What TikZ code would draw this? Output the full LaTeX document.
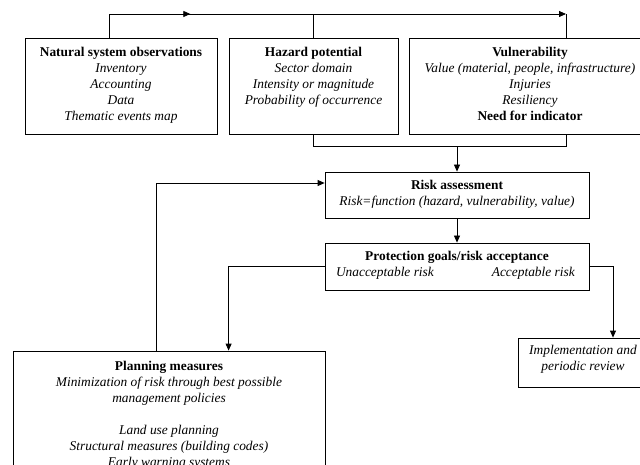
\documentclass[tikz,border=0pt]{standalone}
\usepackage{fontspec}
\setmainfont{Liberation Serif}
\usetikzlibrary{arrows.meta,calc,decorations.markings}
\newcommand\bxt[4]{\parbox[c][#2][t]{#1}{\centering\rule{0pt}{#3}#4\par}}
\tikzset{
  blk/.style={draw, line width=0.8pt, inner sep=0pt, font=\fontsize{13.4}{16}\selectfont},
  conn/.style={line width=0.8pt},
  arr/.style={conn, -{Triangle[length=7pt,width=6pt]}}
}
\begin{document}
\begin{tikzpicture}[x=1pt,y=-1pt]
\useasboundingbox (0,0) rectangle (640,465);
\clip (0,0) rectangle (640,465);
\node[blk] (nat) at (121,86) {\bxt{192pt}{96pt}{19pt}{\textbf{Natural system observations}\\\textit{Inventory}\\\textit{Accounting}\\\textit{Data}\\\textit{Thematic events map}}};
\node[blk] (haz) at (313.5,86) {\bxt{169pt}{96pt}{19pt}{\textbf{Hazard potential}\\\textit{Sector domain}\\\textit{Intensity or magnitude}\\\textit{Probability of occurrence}}};
\node[blk] (vul) at (530,86) {\bxt{242pt}{96pt}{19pt}{\textbf{Vulnerability}\\\textit{Value (material, people, infrastructure)}\\\textit{Injuries}\\\textit{Resiliency}\\\textbf{Need for indicator}}};
\node[blk] (risk) at (457,195) {\bxt{264pt}{46pt}{18pt}{\textbf{Risk assessment}\\\textit{Risk=function (hazard, vulnerability, value)}}};
\node[blk] (prot) at (457,266.5) {\bxt{264pt}{47pt}{18pt}{\textbf{Protection goals/risk acceptance}\\\hspace*{11pt}\textit{Unacceptable risk}\hfill\textit{Acceptable risk}\hspace*{14pt}}};
\node[blk] (impl) at (583,362.5) {\bxt{130pt}{49pt}{16pt}{\textit{Implementation and}\\\textit{periodic review}}};
\node[blk] (plan) at (169,431) {\bxt{312pt}{160pt}{19pt}{\textbf{Planning measures}\\\textit{Minimization of risk through best possible}\\\textit{management policies}\\[16pt]\textit{Land use planning}\\\textit{Structural measures (building codes)}\\\textit{Early warning systems}}};
\coordinate (topy) at (0,14);
\coordinate (nj) at ([xshift=-12pt]nat.north);
\coordinate (vj) at ([xshift=36pt]vul.north);
\coordinate (vb) at ([xshift=36pt]vul.south);
\draw[conn, postaction=decorate, decoration={markings, mark=at position 0.46 with {\arrow{Triangle[length=7pt,width=6pt]}}}] (nj) |- (haz.north |- topy);
\draw[arr] (haz.north) |- (vj |- topy);
\draw[conn] (vj |- topy) -- (vj);
\draw[conn] (haz.south) -- ++(0,12) coordinate (hb) -| (vb);
\draw[arr] (hb -| risk.north) -- (risk.north);
\draw[arr] (risk.south) -- (prot.north);
\draw[arr] ([xshift=144pt]plan.north west) |- ([yshift=12pt]risk.west);
\draw[arr] (prot.west) -| ([xshift=216pt]plan.north west);
\draw[arr] (prot.east) -| ([xshift=30pt]impl.north);
\end{tikzpicture}
\end{document}
